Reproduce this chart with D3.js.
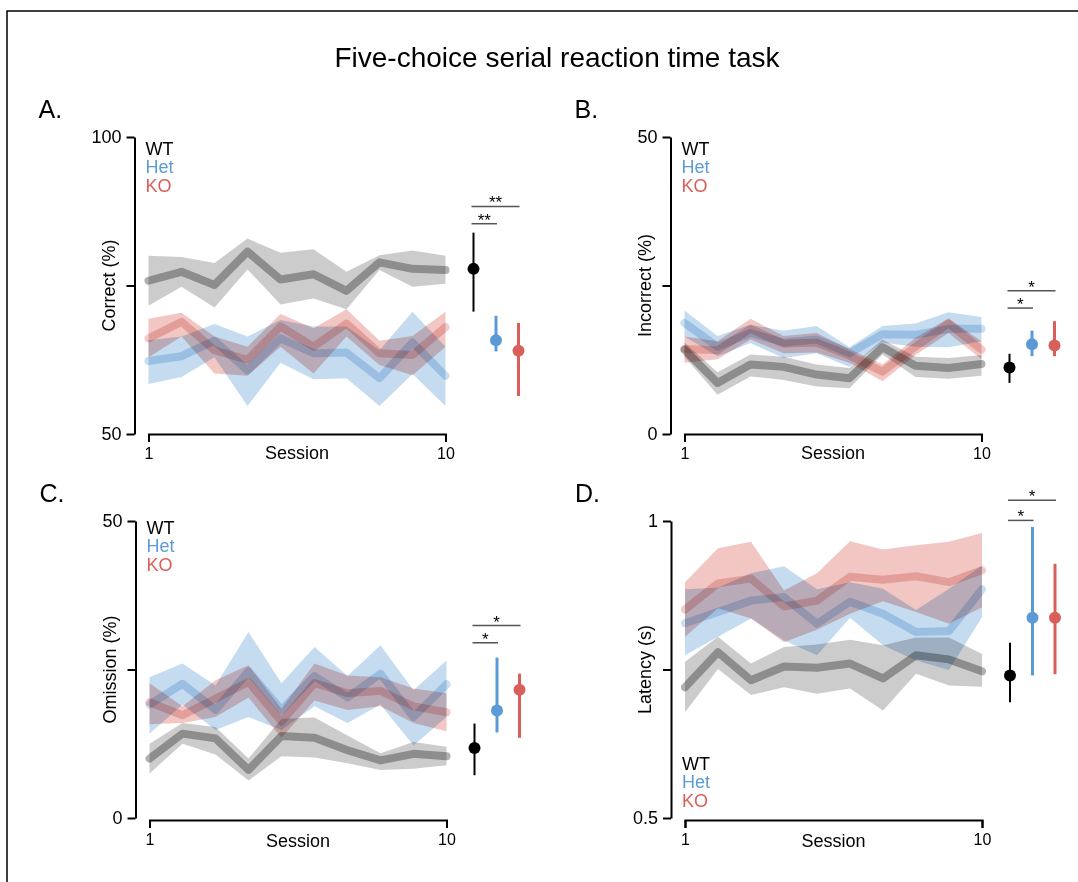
<!DOCTYPE html>
<html>
<head>
<meta charset="utf-8">
<script src="https://cdn.jsdelivr.net/npm/d3@7"></script>
<style>
  body { margin: 0; background: #fff; }
  svg { display: block; font-family: "Liberation Sans", Arial, sans-serif; }
</style>
</head>
<body>
<script>
// sessions and groups
var sessions = [1, 2, 3, 4, 5, 6, 7, 8, 9, 10];
var groups = ["WT", "Het", "KO"];

// each entry: [mean, lower, upper]
var correctWT = [[75.8,71.6,80.0],[77.3,74.8,79.8],[75.1,71.3,78.8],[80.7,77.7,82.9],[76.0,71.8,80.5],[76.9,72.8,81.1],[74.1,71.0,77.3],[78.9,77.6,80.1],[77.8,74.8,80.9],[77.6,75.3,80.0]];
var correctHet = [[62.3,58.4,65.8],[63.1,59.6,66.4],[65.7,62.9,68.5],[60.7,54.7,66.4],[66.1,62.0,69.2],[63.6,59.2,68.1],[63.7,59.4,68.1],[59.4,54.7,64.1],[65.4,60.1,70.6],[59.8,54.7,64.7]];
var correctKO = [[66.1,62.9,69.4],[68.9,66.4,70.4],[64.1,60.2,66.4],[62.5,59.8,64.7],[68.1,64.7,70.2],[64.7,60.2,67.8],[68.6,66.4,71.0],[63.6,61.6,65.7],[63.3,59.9,66.5],[68.0,64.7,70.6]];
var correctSummary = [[77.8,70.6,83.9],[65.8,63.9,69.9],[64.0,56.4,68.7]];
var correctSig = [85.4, 88.3];

var incorrectWT = [[14.2,13.0,15.4],[8.6,6.6,10.4],[11.7,9.7,13.4],[11.3,9.1,13.0],[10.0,8.0,11.7],[9.4,7.7,11.1],[14.6,13.4,15.9],[11.5,9.6,13.0],[11.1,9.3,12.8],[11.8,9.8,13.3]];
var incorrectHet = [[18.7,16.4,20.8],[14.7,13.1,16.5],[17.0,15.3,18.4],[15.4,12.8,17.4],[15.9,13.6,18.2],[13.6,11.3,14.6],[16.8,15.4,18.2],[16.7,14.7,18.6],[17.7,14.6,20.5],[17.7,15.6,19.7]];
var incorrectKO = [[14.3,12.0,16.4],[14.1,12.6,15.6],[17.7,15.9,19.4],[15.2,13.6,16.5],[15.4,13.7,17.0],[13.2,12.0,14.3],[10.5,8.9,11.7],[14.7,13.3,16.2],[18.6,17.0,19.5],[14.2,12.6,15.6]];
var incorrectSummary = [[11.2,8.6,13.5],[15.1,13.1,17.4],[14.9,13.1,19.0]];
var incorrectSig = [21.2, 24.1];

var omissionWT = [[10.0,7.5,12.5],[14.2,12.5,16.0],[13.4,10.7,15.3],[8.1,6.3,10.0],[13.8,10.4,16.7],[13.5,10.2,16.9],[11.4,9.2,13.9],[9.7,8.1,10.9],[10.8,8.3,12.8],[10.4,8.9,12.0]];
var omissionHet = [[19.1,14.2,23.7],[22.6,19.1,26.0],[18.2,14.8,22.3],[24.7,17.0,31.3],[18.2,14.8,22.7],[23.9,18.8,28.8],[20.3,16.0,23.9],[24.3,19.1,29.1],[17.0,12.2,21.5],[22.5,17.0,26.5]];
var omissionKO = [[19.5,15.8,22.7],[17.3,16.0,18.8],[20.1,17.0,23.2],[22.9,20.3,25.7],[16.2,13.5,18.4],[22.7,19.8,26.0],[21.0,18.2,24.0],[21.4,18.8,23.7],[18.8,16.0,21.8],[17.8,14.6,21.0]];
var omissionSummary = [[11.8,7.2,15.9],[18.1,14.4,27.0],[21.6,13.5,24.3]];
var omissionSig = [29.5, 32.4];

var latencyWT = [[0.720,0.678,0.763],[0.779,0.751,0.805],[0.732,0.707,0.760],[0.755,0.720,0.788],[0.753,0.709,0.792],[0.760,0.718,0.800],[0.735,0.681,0.791],[0.774,0.743,0.804],[0.767,0.723,0.804],[0.747,0.721,0.776]];
var latencyHet = [[0.828,0.774,0.885],[0.847,0.805,0.888],[0.866,0.836,0.912],[0.872,0.799,0.924],[0.827,0.774,0.885],[0.864,0.837,0.897],[0.844,0.791,0.886],[0.813,0.765,0.850],[0.815,0.749,0.886],[0.885,0.838,0.925]];
var latencyKO = [[0.851,0.805,0.897],[0.895,0.853,0.954],[0.903,0.836,0.965],[0.856,0.796,0.883],[0.866,0.817,0.912],[0.906,0.844,0.966],[0.901,0.865,0.952],[0.907,0.847,0.959],[0.897,0.827,0.965],[0.917,0.855,0.980]];
var latencySummary = [[0.740,0.695,0.795],[0.837,0.740,0.990],[0.837,0.742,0.928]];
var latencySig = [1.001, 1.035];

var colors = { WT: "#000000", Het: "#5b9bd5", KO: "#d9605a" };

var panels = [
  { letter: "A.", label: "Correct (%)", domain: [50, 100], ticks: [50, 75, 100], tickLabels: ["50", "", "100"],
    series: [correctWT, correctHet, correctKO], summary: correctSummary, sig: correctSig, stars: "**",
    ax: 134.5, top: 137, xGap: 0, legendY: 155 },
  { letter: "B.", label: "Incorrect (%)", domain: [0, 50], ticks: [0, 25, 50], tickLabels: ["0", "", "50"],
    series: [incorrectWT, incorrectHet, incorrectKO], summary: incorrectSummary, sig: incorrectSig, stars: "*",
    ax: 670.5, top: 137, xGap: 0, legendY: 155 },
  { letter: "C.", label: "Omission (%)", domain: [0, 50], ticks: [0, 25, 50], tickLabels: ["0", "", "50"],
    series: [omissionWT, omissionHet, omissionKO], summary: omissionSummary, sig: omissionSig, stars: "*",
    ax: 135.5, top: 521, xGap: 2, legendY: 534 },
  { letter: "D.", label: "Latency (s)", domain: [0.5, 1], ticks: [0.5, 0.75, 1], tickLabels: ["0.5", "", "1"],
    series: [latencyWT, latencyHet, latencyKO], summary: latencySummary, sig: latencySig, stars: "*",
    ax: 671, top: 521, xGap: 2, legendY: 770 }
];

var svg = d3.select("body").append("svg")
    .attr("width", 1078)
    .attr("height", 882);

// frame
svg.append("path")
    .attr("d", "M7,882V11H1078")
    .attr("fill", "none")
    .attr("stroke", "#000")
    .attr("stroke-width", 1.5);

svg.append("text")
    .attr("x", 557).attr("y", 67)
    .attr("text-anchor", "middle")
    .style("font-size", "28px")
    .text("Five-choice serial reaction time task");

var plotH = 297, plotW = 297;

panels.forEach(function (p) {
  var g = svg.append("g");
  var x0 = p.ax + 14;
  var x = d3.scaleLinear().domain([1, 10]).range([x0, x0 + plotW]);
  var y = d3.scaleLinear().domain(p.domain).range([p.top + plotH, p.top]);
  var gx = d3.scalePoint().domain(groups).range([x0 + plotW + 28, x0 + plotW + 73]);

  // panel letter
  svg.append("text")
      .attr("x", p.ax - 96).attr("y", p.top - 19)
      .style("font-size", "25px")
      .text(p.letter);

  // y axis
  var yAxis = d3.axisLeft(y).tickValues(p.ticks)
      .tickFormat(function (d, i) { return p.tickLabels[i]; })
      .tickSize(8).tickSizeOuter(0).tickPadding(5);
  var ya = g.append("g").attr("transform", "translate(" + p.ax + ",0)").call(yAxis);
  ya.select(".domain").attr("stroke-width", 2);
  ya.selectAll(".tick line").attr("stroke-width", 2);
  ya.selectAll(".tick text").style("font-size", "18px").attr("fill", "#000").attr("font-family", null);

  // x axis (1 and 10 only)
  var xAxis = d3.axisBottom(x).tickValues([1, 10]).tickFormat(d3.format("d"))
      .tickSize(8).tickSizeOuter(8).tickPadding(6);
  var xa = g.append("g").attr("transform", "translate(0," + (p.top + plotH + p.xGap) + ")").call(xAxis);
  xa.select(".domain").attr("stroke-width", 2);
  xa.selectAll(".tick line").attr("stroke-width", 2);
  xa.selectAll(".tick text").style("font-size", "16px").attr("fill", "#000").attr("font-family", null);

  g.append("text")
      .attr("x", x(5.5)).attr("y", p.top + plotH + 25 + p.xGap * 2)
      .attr("text-anchor", "middle")
      .style("font-size", "18px")
      .text("Session");

  g.append("text")
      .attr("transform", "translate(" + (p.ax - 26) + "," + (p.top + plotH / 2) + ") rotate(-90)")
      .attr("text-anchor", "middle")
      .attr("dy", "0.35em")
      .style("font-size", "18px")
      .text(p.label);

  // bands and mean lines
  var area = d3.area()
      .x(function (d, i) { return x(sessions[i]); })
      .y0(function (d) { return y(d[1]); })
      .y1(function (d) { return y(d[2]); });
  var line = d3.line()
      .x(function (d, i) { return x(sessions[i]); })
      .y(function (d) { return y(d[0]); });

  var marks = g.append("g").style("isolation", "isolate");
  p.series.forEach(function (s, k) {
    var c = colors[groups[k]];
    marks.append("path")
        .attr("d", area(s))
        .attr("fill", c)
        .attr("fill-opacity", k === 0 ? 0.2 : 0.36)
        .style("mix-blend-mode", "multiply");
    marks.append("path")
        .attr("d", line(s))
        .attr("fill", "none")
        .attr("stroke", c)
        .attr("stroke-opacity", k === 0 ? 0.31 : 0.33)
        .attr("stroke-width", 8)
        .attr("stroke-linecap", "round")
        .attr("stroke-linejoin", "round")
        .style("mix-blend-mode", "multiply");
  });

  // summary points
  p.summary.forEach(function (d, k) {
    var c = colors[groups[k]];
    var cx = gx(groups[k]);
    g.append("line")
        .attr("x1", cx).attr("x2", cx)
        .attr("y1", y(d[1])).attr("y2", y(d[2]))
        .attr("stroke", c)
        .attr("stroke-width", k === 0 ? 2 : 3);
    g.append("circle")
        .attr("cx", cx).attr("cy", y(d[0]))
        .attr("r", 6)
        .attr("fill", c);
  });

  // significance bars
  p.sig.forEach(function (v, k) {
    var xa1 = gx("WT") - 2, xa2 = gx(groups[k + 1]) + 1;
    g.append("line")
        .attr("x1", xa1).attr("x2", xa2)
        .attr("y1", y(v)).attr("y2", y(v))
        .attr("stroke", "#555")
        .attr("stroke-width", 1.5);
    g.append("text")
        .attr("x", (xa1 + xa2) / 2).attr("y", y(v) + 2)
        .attr("text-anchor", "middle")
        .style("font-size", "17px")
        .text(p.stars);
  });

  // legend
  groups.forEach(function (name, k) {
    g.append("text")
        .attr("x", x0 - 3).attr("y", p.legendY + k * 18.3)
        .attr("fill", colors[name])
        .style("font-size", "18px")
        .text(name);
  });
});
</script>
</body>
</html>
